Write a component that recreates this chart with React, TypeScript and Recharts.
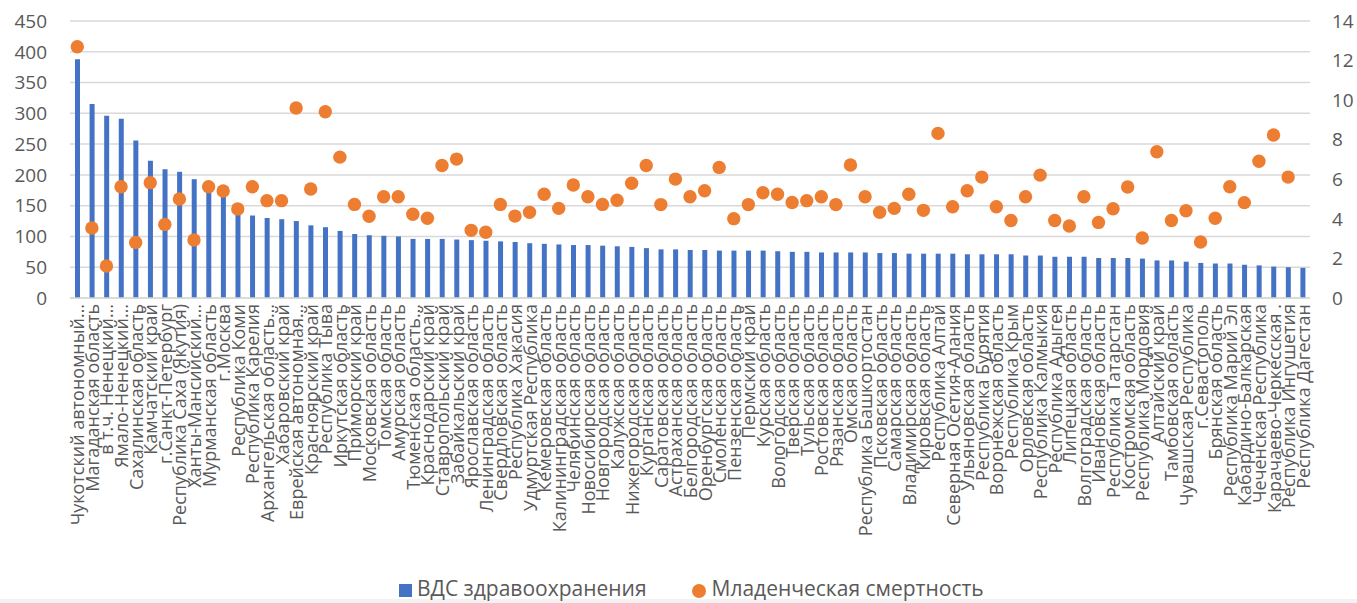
import { Bar, CartesianGrid, ComposedChart, Legend, Scatter, XAxis, YAxis } from "recharts";

const regions = [
  "Чукотский автономный…", "Магаданская область", "в т.ч. Ненецкий…", "Ямало-Ненецкий…",
  "Сахалинская область", "Камчатский край", "г.Санкт-Петербург", "Республика Саха (Якутия)",
  "Ханты-Мансийский…", "Мурманская область", "г.Москва", "Республика Коми",
  "Республика Карелия", "Архангельская область…", "Хабаровский край", "Еврейская автономная…",
  "Красноярский край", "Республика Тыва", "Иркутская область", "Приморский край",
  "Московская область", "Томская область", "Амурская область", "Тюменская область…",
  "Краснодарский край", "Ставропольский край", "Забайкальский край", "Ярославская область",
  "Ленинградская область", "Свердловская область", "Республика Хакасия", "Удмуртская Республика",
  "Кемеровская область", "Калининградская область", "Челябинская область", "Новосибирская область",
  "Новгородская область", "Калужская область", "Нижегородская область", "Курганская область",
  "Саратовская область", "Астраханская область", "Белгородская область", "Оренбургская область",
  "Смоленская область", "Пензенская область", "Пермский край", "Курская область",
  "Вологодская область", "Тверская область", "Тульская область", "Ростовская область",
  "Рязанская область", "Омская область", "Республика Башкортостан", "Псковская область",
  "Самарская область", "Владимирская область", "Кировская область", "Республика Алтай",
  "Северная Осетия-Алания", "Ульяновская область", "Республика Бурятия", "Воронежская область",
  "Республика Крым", "Орловская область", "Республика Калмыкия", "Республика Адыгея",
  "Липецкая область", "Волгоградская область", "Ивановская область", "Республика Татарстан",
  "Костромская область", "Республика Мордовия", "Алтайский край", "Тамбовская область",
  "Чувашская Республика", "г.Севастополь", "Брянская область", "Республика Марий Эл",
  "Кабардино-Балкарская", "Чеченская Республика", "Карачаево-Черкесская .", "Республика Ингушетия",
  "Республика Дагестан",
];

const vdsHealth = [
  388, 315, 296, 291, 256, 223, 209, 205, 193, 183, 176, 142, 134, 130, 128, 125, 118, 115, 109, 104,
  102, 101, 100, 96, 96, 96, 95, 94, 93, 92, 91, 89, 88, 87, 86, 86, 85, 84, 83, 81,
  79, 79, 78, 78, 77, 77, 77, 77, 76, 75, 75, 74, 74, 74, 74, 73, 73, 72, 72, 72,
  72, 71, 71, 71, 71, 69, 69, 67, 67, 67, 65, 65, 65, 64, 61, 61, 59, 57, 56, 56,
  54, 53, 51, 50, 49,
];

const infantMortality: (number | null)[] = [
  12.7, 3.54, 1.62, 5.62, 2.81, 5.83, 3.72, 5.0, 2.93, 5.62, 5.41, 4.5, 5.62, 4.92, 4.92, 9.6, 5.51, 9.41, 7.12, 4.73,
  4.13, 5.12, 5.12, 4.23, 4.03, 6.7, 7.02, 3.42, 3.32, 4.73, 4.14, 4.33, 5.24, 4.53, 5.71, 5.12, 4.73, 4.94, 5.8, 6.7,
  4.72, 6.01, 5.12, 5.42, 6.6, 4.01, 4.72, 5.32, 5.24, 4.83, 4.92, 5.12, 4.72, 6.72, 5.12, 4.33, 4.53, 5.24, 4.43, 8.32,
  4.61, 5.42, 6.11, 4.61, 3.92, 5.12, 6.21, 3.92, 3.64, 5.12, 3.82, 4.51, 5.61, 3.03, 7.39, 3.92, 4.41, 2.83, 4.03, 5.62,
  4.82, 6.91, 8.24, 6.11, null,
];

const leftTicks = [0, 50, 100, 150, 200, 250, 300, 350, 400, 450];
const rightTicks = [0, 2, 4, 6, 8, 10, 12, 14];

const data = regions.map((name, i) => ({ name, vds: vdsHealth[i], mort: infantMortality[i] }));

const FONT = "'Open Sans', 'Noto Sans', sans-serif";
const GREY = "#595959";

const RegionTick = (props: any) => {
  const { x, y, payload } = props;
  return (
    <text
      x={x}
      y={y}
      transform={`rotate(-90, ${x}, ${y})`}
      textAnchor="end"
      dominantBaseline="central"
      fontSize={18}
      fontFamily={FONT}
      fill={GREY}
    >
      {payload.value}
    </text>
  );
};

const Dot = (props: any) => {
  if (props.payload == null || props.payload.mort == null) return <g />;
  return <circle cx={props.cx} cy={props.cy} r={6.7} fill="#ED7D31" />;
};

const LegendBox = () => (
  <div
    style={{
      display: "flex",
      alignItems: "center",
      fontFamily: FONT,
      fontSize: 21,
      lineHeight: "21px",
      color: GREY,
      paddingLeft: 399,
      whiteSpace: "nowrap",
    }}
  >
    <span style={{ display: "flex", alignItems: "center" }}>
      <span style={{ width: 13, height: 13, background: "#4472C4", marginRight: 5, marginTop: 4 }} />
      ВДС здравоохранения
    </span>
    <span style={{ display: "flex", alignItems: "center", marginLeft: 45 }}>
      <span style={{ width: 14, height: 14, borderRadius: 7, background: "#ED7D31", marginRight: 6, marginTop: 4 }} />
      Младенческая смертность
    </span>
  </div>
);

export default function App() {
  return (
    <div style={{ position: "absolute", left: 0, top: 0, width: 1357, height: 603, background: "#fff", overflow: "hidden" }}>
      <div style={{ position: "absolute", left: 0, top: 599, width: 1357, height: 4, background: "#f2f2f2" }} />
      <ComposedChart width={1357} height={603} data={data} margin={{ top: 21, right: 0, left: 0, bottom: 0 }}>
        <CartesianGrid yAxisId="left" vertical={false} stroke="#d9d9d9" strokeWidth={1.5} />
        <XAxis
          dataKey="name"
          interval={0}
          height={284}
          tick={<RegionTick />}
          tickLine={false}
          axisLine={{ stroke: "#d9d9d9", strokeWidth: 1.5 }}
          tickSize={0}
          tickMargin={6}
        />
        <YAxis
          yAxisId="left"
          domain={[0, 450]}
          ticks={leftTicks}
          width={70}
          axisLine={false}
          tickLine={false}
          tickSize={0}
          tickMargin={23}
          tick={{ fill: GREY, fontSize: 19, fontFamily: FONT }}
        />
        <YAxis
          yAxisId="right"
          orientation="right"
          domain={[0, 14]}
          ticks={rightTicks}
          width={47}
          axisLine={false}
          tickLine={false}
          tickSize={0}
          tickMargin={22}
          tick={{ fill: GREY, fontSize: 19, fontFamily: FONT, textAnchor: "start" }}
        />
        <Bar yAxisId="left" dataKey="vds" fill="#4472C4" barSize={5} isAnimationActive={false} />
        <Scatter yAxisId="right" dataKey="mort" shape={<Dot />} isAnimationActive={false} />
        <Legend
          content={<LegendBox />}
          wrapperStyle={{ position: "absolute", top: 578, left: 0, width: 1357, height: 21 }}
        />
      </ComposedChart>
    </div>
  );
}
